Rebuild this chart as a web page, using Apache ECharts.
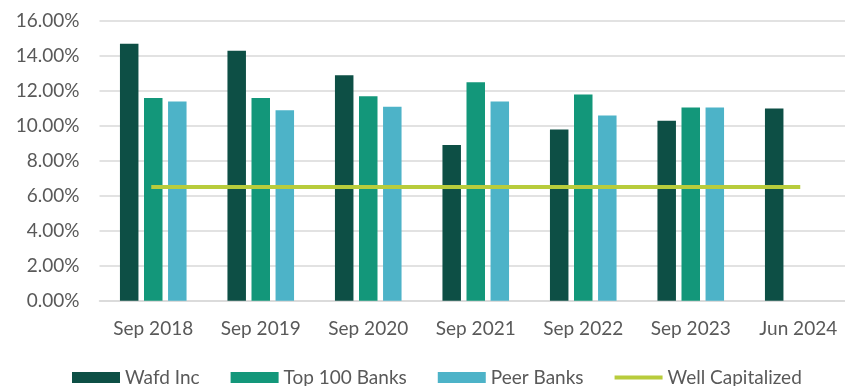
<!DOCTYPE html>
<html>
<head>
<meta charset="utf-8">
<script src="https://cdn.jsdelivr.net/npm/echarts@6/dist/echarts.min.js"></script>
<style>
  html, body { margin: 0; padding: 0; background: #ffffff; }
  #chart { width: 845px; height: 386px; }
</style>
</head>
<body>
<div id="chart"></div>
<script>
// Capital ratio by period (percent)
const categories = ['Sep 2018', 'Sep 2019', 'Sep 2020', 'Sep 2021', 'Sep 2022', 'Sep 2023', 'Jun 2024'];
const wafdInc    = [14.7, 14.3, 12.9, 8.9, 9.8, 10.3, 11.0];
const top100     = [11.6, 11.6, 11.7, 12.5, 11.8, 11.05, null];
const peerBanks  = [11.4, 10.9, 11.1, 11.4, 10.6, 11.05, null];
const wellCap    = [6.5, 6.5, 6.5, 6.5, 6.5, 6.5, 6.5];
const yTicks     = { min: 0, max: 16, step: 2 };

const textColor = '#595959';
const fontFamily = 'Lato, "Open Sans", sans-serif';

const chart = echarts.init(document.getElementById('chart'), null, { renderer: 'canvas' });

const barCommon = {
  type: 'bar',
  barWidth: 18.5,
  barGap: '30%',
  emphasis: { disabled: true }
};

chart.setOption({
  animation: false,
  backgroundColor: '#ffffff',
  textStyle: { fontFamily: fontFamily },
  // the plot area runs slightly past the right edge of the canvas
  grid: { left: 99.5, top: 21, width: 752.5, height: 279.7, containLabel: false, outerBoundsMode: 'none' },
  legend: {
    left: 67,
    top: 363,
    itemWidth: 48,
    itemHeight: 11,
    itemGap: 31,
    textStyle: { color: textColor, fontSize: 19, fontFamily: fontFamily },
    data: [
      { name: 'Wafd Inc', icon: 'rect' },
      { name: 'Top 100 Banks', icon: 'rect' },
      { name: 'Peer Banks', icon: 'rect' },
      { name: 'Well Capitalized', icon: 'path://M0,0H48V4H0Z' }
    ]
  },
  xAxis: {
    type: 'category',
    data: categories,
    axisTick: { show: false },
    axisLine: { lineStyle: { color: '#d9d9d9', width: 1.5 } },
    axisLabel: { color: textColor, fontSize: 19, margin: 19, fontFamily: fontFamily }
  },
  yAxis: {
    type: 'value',
    min: yTicks.min,
    max: yTicks.max,
    interval: yTicks.step,
    axisLine: { show: false },
    axisTick: { show: false },
    splitLine: { lineStyle: { color: '#d9d9d9', width: 1.5 } },
    axisLabel: {
      color: textColor,
      fontSize: 19,
      margin: 20,
      fontFamily: fontFamily,
      formatter: v => v.toFixed(2) + '%'
    }
  },
  series: [
    Object.assign({}, barCommon, { name: 'Wafd Inc', data: wafdInc, itemStyle: { color: '#0d4f45' } }),
    Object.assign({}, barCommon, { name: 'Top 100 Banks', data: top100, itemStyle: { color: '#13977a' } }),
    Object.assign({}, barCommon, { name: 'Peer Banks', data: peerBanks, itemStyle: { color: '#4db3c8' } }),
    {
      name: 'Well Capitalized',
      type: 'line',
      data: wellCap,
      symbol: 'none',
      z: 5,
      lineStyle: { color: '#b8cc3c', width: 4, cap: 'square' },
      itemStyle: { color: '#b8cc3c' },
      emphasis: { disabled: true }
    }
  ]
});
</script>
</body>
</html>
